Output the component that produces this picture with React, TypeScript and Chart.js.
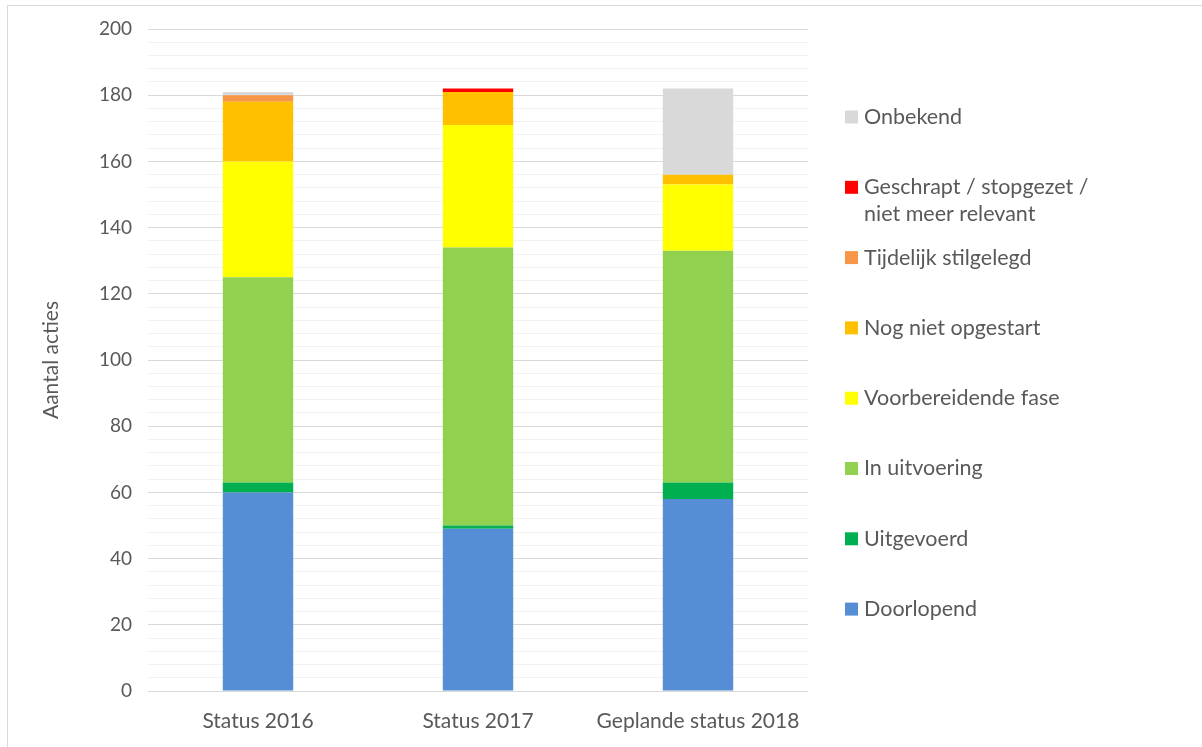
import { useEffect, useRef } from 'react';
import { Chart, registerables } from 'chart.js';

Chart.register(...registerables);

// Status categories along the x axis
const categories = ['Status 2016', 'Status 2017', 'Geplande status 2018'];

// Number of actions per status, one value per category
const doorlopend = [60, 49, 58];
const uitgevoerd = [3, 1, 5];
const inUitvoering = [62, 84, 70];
const voorbereidendeFase = [35, 37, 20];
const nogNietOpgestart = [18, 10, 3];
const tijdelijkStilgelegd = [2, 0, 0];
const geschrapt = [0, 1, 0];
const onbekend = [1, 0, 26];

// Y axis range: labelled every 20, light minor lines every 4
const yMin = 0;
const yMax = 200;
const yLabelStep = 20;
const yMinorStep = 4;

const FONT = 'Lato, "Open Sans", sans-serif';
const TEXT = '#595959';

// Legend drawn on the right, listed top-down in reverse stacking order
const sideLegend = {
  id: 'sideLegend',
  afterDraw(chart: any) {
    const { ctx, chartArea } = chart;
    const sets = chart.data.datasets;
    const x0 = chartArea.right + 37;
    const y0 = chartArea.top + 88;
    const rowStep = 70.3;
    ctx.save();
    ctx.font = `21.5px ${FONT}`;
    ctx.textBaseline = 'middle';
    ctx.textAlign = 'left';
    sets
      .slice()
      .reverse()
      .forEach((ds: any, row: number) => {
        const y = y0 + row * rowStep;
        ctx.fillStyle = ds.backgroundColor;
        ctx.fillRect(x0, y - 6.5, 13, 13);
        ctx.fillStyle = TEXT;
        const lines: string[] = Array.isArray(ds.legendLines) ? ds.legendLines : [ds.label];
        lines.forEach((ln, k) => ctx.fillText(ln, x0 + 19, y + k * 27));
      });
    ctx.restore();
  },
};

// Thin frame around the whole figure
const frame = {
  id: 'frame',
  beforeDraw(chart: any) {
    const { ctx, width, height } = chart;
    ctx.save();
    ctx.fillStyle = '#ffffff';
    ctx.fillRect(0, 0, width, height);
    ctx.strokeStyle = '#d9d9d9';
    ctx.lineWidth = 1;
    ctx.strokeRect(7.5, 5.5, width + 10, height + 10);
    ctx.restore();
  },
};

export default function App() {
  const canvasRef = useRef<HTMLCanvasElement | null>(null);

  useEffect(() => {
    const canvas = canvasRef.current;
    if (!canvas) return;

    const mk = (label: string, data: number[], color: string, legendLines?: string[]) => ({
      label,
      data,
      backgroundColor: color,
      borderWidth: 0,
      legendLines,
    });

    const chart = new Chart(canvas, {
      type: 'bar',
      data: {
        labels: categories,
        datasets: [
          mk('Doorlopend', doorlopend, '#558ED5'),
          mk('Uitgevoerd', uitgevoerd, '#00B050'),
          mk('In uitvoering', inUitvoering, '#92D050'),
          mk('Voorbereidende fase', voorbereidendeFase, '#FFFF00'),
          mk('Nog niet opgestart', nogNietOpgestart, '#FFC000'),
          mk('Tijdelijk stilgelegd', tijdelijkStilgelegd, '#F79646'),
          mk('Geschrapt / stopgezet / niet meer relevant', geschrapt, '#FF0000', [
            'Geschrapt / stopgezet /',
            'niet meer relevant',
          ]),
          mk('Onbekend', onbekend, '#D9D9D9'),
        ] as any,
      },
      options: {
        responsive: false,
        animation: false,
        layout: { padding: { left: 30, right: 394, top: 29, bottom: 0 } },
        plugins: {
          legend: { display: false },
          tooltip: { enabled: false },
        },
        datasets: {
          bar: { barPercentage: 0.32, categoryPercentage: 1 },
        },
        scales: {
          x: {
            stacked: true,
            grid: { display: false },
            border: { display: false },
            ticks: {
              color: TEXT,
              font: { family: FONT, size: 21 },
              padding: 10,
              maxRotation: 0,
            },
            afterFit(scale: any) {
              scale.height = 56;
            },
          },
          y: {
            stacked: true,
            min: yMin,
            max: yMax,
            border: { display: false },
            grid: {
              drawTicks: false,
              lineWidth: 1,
              color: (c: any) =>
                c.tick && c.tick.value % yLabelStep === 0 ? '#d9d9d9' : '#f2f2f2',
            },
            ticks: {
              stepSize: yMinorStep,
              autoSkip: false,
              color: TEXT,
              padding: 16,
              font: { family: FONT, size: 19 },
              callback: (v: any) => (Number(v) % yLabelStep === 0 ? String(v) : ''),
            },
            title: {
              display: true,
              text: 'Aantal acties',
              color: TEXT,
              font: { family: FONT, size: 21 },
              padding: { top: 9, bottom: 0 },
            },
            afterFit(scale: any) {
              scale.width = 118;
            },
          },
        },
      },
      plugins: [frame, sideLegend],
    });

    return () => chart.destroy();
  }, []);

  return (
    <div style={{ position: 'absolute', left: 0, top: 0, width: 1202, height: 747 }}>
      <canvas ref={canvasRef} width={1202} height={747} style={{ display: 'block' }} />
    </div>
  );
}
